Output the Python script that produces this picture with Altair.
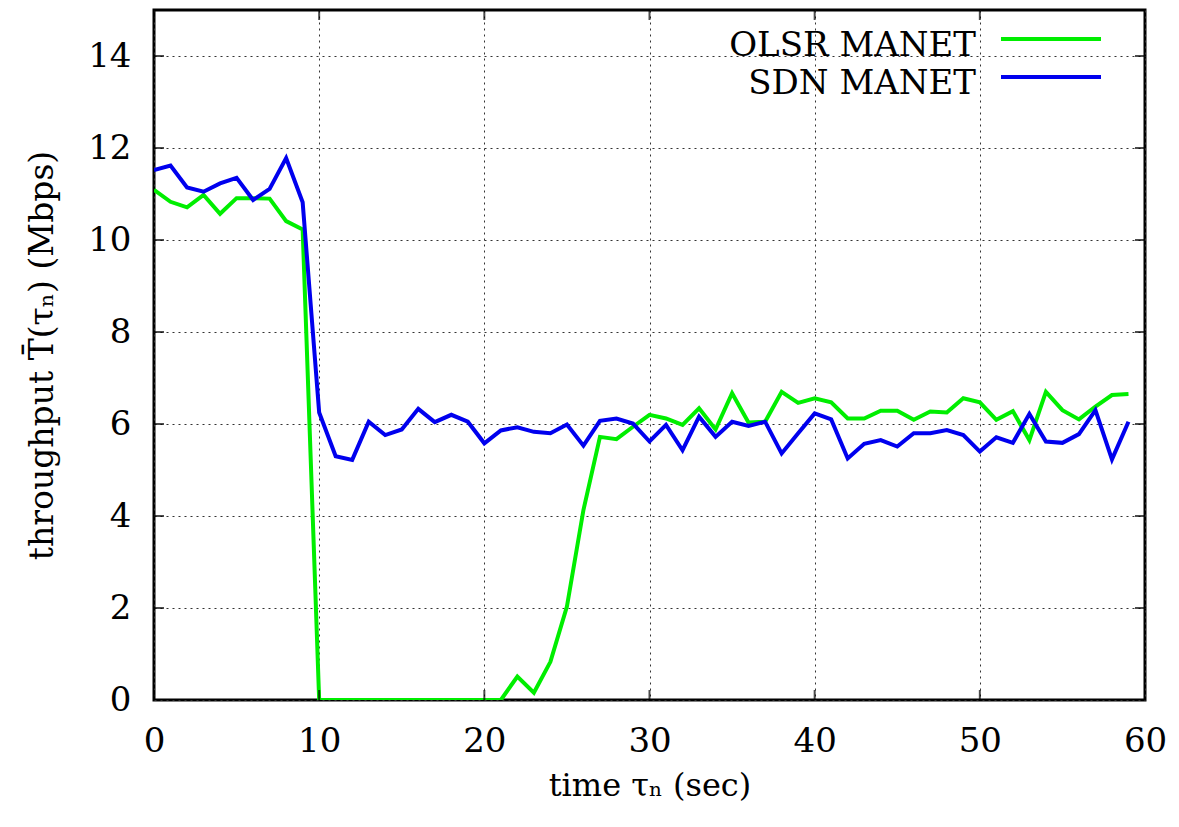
import altair as alt
import pandas as pd

time_s = list(range(60))
olsr = [11.09, 10.83, 10.71, 10.98, 10.57, 10.91, 10.91, 10.90, 10.41, 10.23,
        0, 0, 0, 0, 0, 0, 0, 0, 0, 0, 0, 0,
        0.51, 0.16, 0.83, 2.03, 4.13, 5.72, 5.67, 5.94,
        6.20, 6.12, 5.98, 6.34, 5.88, 6.67, 6.03, 6.05, 6.70, 6.46,
        6.56, 6.47, 6.12, 6.12, 6.29, 6.29, 6.09, 6.27, 6.25, 6.56,
        6.47, 6.09, 6.28, 5.65, 6.70, 6.30, 6.10, 6.38, 6.63, 6.65]
sdn = [11.52, 11.62, 11.14, 11.05, 11.23, 11.35, 10.87, 11.11, 11.78, 10.82,
       6.25, 5.30, 5.22, 6.05, 5.76, 5.88, 6.33, 6.04, 6.20, 6.05,
       5.58, 5.86, 5.93, 5.83, 5.80, 5.99, 5.53, 6.07, 6.12, 6.01,
       5.62, 5.98, 5.43, 6.16, 5.72, 6.05, 5.96, 6.05, 5.36, 5.80,
       6.23, 6.10, 5.25, 5.57, 5.65, 5.51, 5.80, 5.80, 5.87, 5.76,
       5.40, 5.71, 5.59, 6.22, 5.62, 5.59, 5.78, 6.30, 5.23, 6.05]
series_names = ["OLSR MANET", "SDN MANET"]
series_colors = ["#00ee00", "#0000ee"]
x_ticks = [0, 10, 20, 30, 40, 50, 60]
y_ticks = [0, 2, 4, 6, 8, 10, 12, 14]

FONT = "DejaVu Serif"

rows = []
for t, v in zip(time_s, olsr):
    rows.append({"t": t, "v": v, "s": series_names[0], "o": 0})
for t, v in zip(time_s, sdn):
    rows.append({"t": t, "v": v, "s": series_names[1], "o": 1})
df = pd.DataFrame(rows)

xscale = alt.Scale(domain=[0, 60], nice=False, zero=False)
yscale = alt.Scale(domain=[0, 15], nice=False, zero=False)

xaxis = alt.Axis(values=x_ticks, grid=True, gridDash=[2, 4], gridColor="#333",
                 gridWidth=1, domain=False, ticks=False, labelFontSize=34,
                 labelFont=FONT, labelColor="black", labelPadding=24, labelFlush=False,
                 title="time τₙ (sec)", titleFont=FONT, titleFontSize=32,
                 titleFontWeight="normal", titleColor="black", titlePadding=12)
yaxis = alt.Axis(values=y_ticks, grid=True, gridDash=[2, 4], gridColor="#333",
                 gridWidth=1, domain=False, ticks=False, labelFontSize=34,
                 labelFont=FONT, labelColor="black", labelPadding=23, labelFlush=False,
                 title="throughput T̄(τₙ) (Mbps)", titleFont=FONT, titleFontSize=33,
                 titleFontWeight="normal", titleColor="black", titlePadding=28)

lines = alt.Chart(df).mark_line(strokeWidth=4, clip=True).encode(
    x=alt.X("t:Q", scale=xscale, axis=xaxis),
    y=alt.Y("v:Q", scale=yscale, axis=yaxis),
    color=alt.Color("s:N", scale=alt.Scale(domain=series_names, range=series_colors),
                    legend=None),
    order="o:Q",
)

ytick_rows = [{"v": v, "t": x} for v in y_ticks for x in [0, 60]]
xtick_rows = [{"t": t, "v": y} for t in x_ticks for y in [0, 15]]

yticks = alt.Chart(pd.DataFrame(ytick_rows)).mark_tick(
    orient="horizontal", size=20, thickness=2, color="black", clip=True
).encode(x=alt.X("t:Q", scale=xscale), y=alt.Y("v:Q", scale=yscale))
xticks = alt.Chart(pd.DataFrame(xtick_rows)).mark_tick(
    orient="vertical", size=20, thickness=2, color="black", clip=True
).encode(x=alt.X("t:Q", scale=xscale), y=alt.Y("v:Q", scale=yscale))

# manual legend (labels left of the line samples, as in gnuplot)
legend_layers = []
legend_rows_y = [29, 67]
for name, col, ly in zip(series_names, series_colors, legend_rows_y):
    legend_layers.append(
        alt.Chart(pd.DataFrame({"s": [name]})).mark_text(
            align="right", baseline="alphabetic", font=FONT, fontSize=34, color="black"
        ).encode(x=alt.value(822), y=alt.value(ly + 17), text="s:N")
    )
    legend_layers.append(
        alt.Chart(pd.DataFrame({"s": [name]})).mark_rule(strokeWidth=4, color=col).encode(
            x=alt.value(847), x2=alt.value(947), y=alt.value(ly)
        )
    )

chart = alt.layer(lines, yticks, xticks, *legend_layers).properties(
    width=991, height=690,
    autosize=alt.AutoSizeParams(type="none"),
    padding={"left": 146, "top": 2, "right": 26, "bottom": 119},
    background="white",
).configure_view(stroke="black", strokeWidth=3)

chart.save("out.html", embed_options={"renderer": "svg", "actions": False})
